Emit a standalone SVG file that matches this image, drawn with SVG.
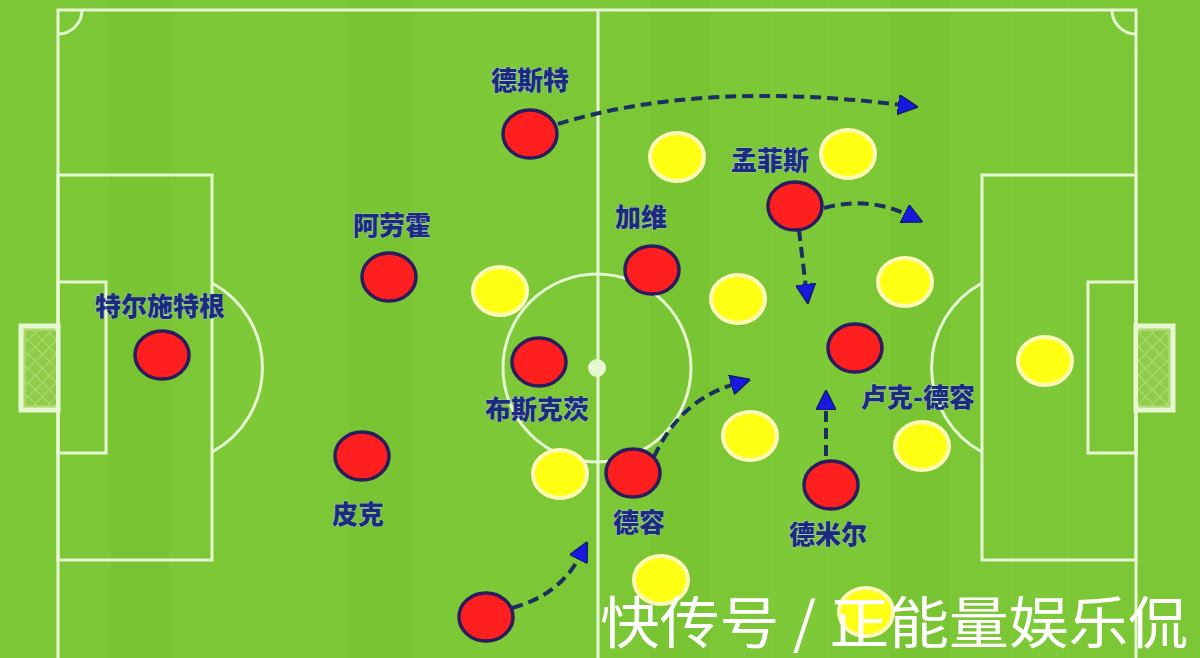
<svg xmlns="http://www.w3.org/2000/svg" width="1200" height="658" viewBox="0 0 1200 658">
<defs>
<style>
.line{fill:none;stroke:#e6f7d2;stroke-width:3}
.red{fill:#ff1f1f;stroke:#2b1c5e;stroke-width:3.5}
.yel{fill:#ffff14;stroke:#fdf8b8;stroke-width:4}
.lbl{font-family:"Noto Sans CJK SC","Noto Sans",sans-serif;font-weight:900;font-size:26px;fill:#1b2c80;text-anchor:middle;stroke:#c8d8f0;stroke-width:0.6;paint-order:stroke}
.arr{fill:none;stroke:#1c2f62;stroke-width:4;stroke-dasharray:11 6}
.net{fill:#a8d86a;stroke:#e6f7d2;stroke-width:5}
.wm{font-family:"Noto Sans CJK SC",sans-serif;font-size:56px;fill:#ffffff}
</style>
<marker id="ah" viewBox="0 0 10 10" refX="2" refY="5" markerWidth="5" markerHeight="5" orient="auto" markerUnits="strokeWidth">
<path d="M0,0 L10,5 L0,10 z" fill="#1818e0" stroke="#10206a" stroke-width="0.8"/>
</marker>
<pattern id="mesh" width="10" height="10" patternUnits="userSpaceOnUse" patternTransform="rotate(45)">
<rect width="10" height="10" fill="#8fcc4a"/>
<path d="M0,0 H10 M0,0 V10" stroke="#b8e07a" stroke-width="1.5"/>
</pattern>
</defs>
<rect width="1200" height="658" fill="#7cc736"/>
<g id="stripes" opacity="0.5">
<rect x="110" y="0" width="60" height="658" fill="#78c232"/>
<rect x="230" y="0" width="60" height="658" fill="#80cb3a"/>
<rect x="350" y="0" width="60" height="658" fill="#78c232"/>
<rect x="470" y="0" width="60" height="658" fill="#80cb3a"/>
<rect x="650" y="0" width="60" height="658" fill="#78c232"/>
<rect x="770" y="0" width="60" height="658" fill="#80cb3a"/>
<rect x="890" y="0" width="60" height="658" fill="#78c232"/>
<rect x="1010" y="0" width="60" height="658" fill="#80cb3a"/>
</g>
<g id="pitch">
<rect class="line" x="58" y="10" width="1078" height="700"/>
<line class="line" x1="598" y1="10" x2="598" y2="658"/>
<circle class="line" cx="597" cy="368" r="94"/>
<circle cx="597" cy="368" r="9" fill="#e6f7d2"/>
<path class="line" d="M58,34 A24,24 0 0 0 82,10"/>
<path class="line" d="M1112,10 A24,24 0 0 0 1136,34"/>
<rect class="line" x="58" y="175" width="154" height="385"/>
<rect class="line" x="58" y="282" width="48" height="171"/>
<path class="line" d="M212,283 A96,96 0 0 1 212,452"/>
<rect class="net" x="21" y="326" width="37" height="84"/>
<rect class="line" x="982" y="175" width="154" height="385"/>
<rect class="line" x="1088" y="282" width="48" height="171"/>
<path class="line" d="M982,283 A96,96 0 0 0 982,452"/>
<rect class="net" x="1136" y="326" width="37" height="84"/>
<rect x="26" y="331" width="30" height="74" fill="url(#mesh)"/>
<rect x="1138" y="331" width="30" height="74" fill="url(#mesh)"/>
</g>
<g id="connectors">
<path class="arr" d="M558,124 Q700,80 902,105" marker-end="url(#ah)"/>
<path class="arr" d="M824,208 Q868,196 908,215" marker-end="url(#ah)"/>
<path class="arr" d="M799,230 L806,288" marker-end="url(#ah)"/>
<path class="arr" d="M826,456 L826,406" marker-end="url(#ah)"/>
<path class="arr" d="M654,457 Q680,400 735,384" marker-end="url(#ah)"/>
<path class="arr" d="M512,608 Q560,595 580,556" marker-end="url(#ah)"/>
</g>
<g id="opponents">
<ellipse class="yel" cx="677" cy="157" rx="27" ry="24"/>
<ellipse class="yel" cx="848" cy="154" rx="27" ry="24"/>
<ellipse class="yel" cx="500" cy="291" rx="27" ry="24"/>
<ellipse class="yel" cx="738" cy="299" rx="27" ry="24"/>
<ellipse class="yel" cx="905" cy="282" rx="27" ry="24"/>
<ellipse class="yel" cx="1045" cy="361" rx="27" ry="24"/>
<ellipse class="yel" cx="750" cy="436" rx="27" ry="24"/>
<ellipse class="yel" cx="922" cy="446" rx="27" ry="24"/>
<ellipse class="yel" cx="560" cy="474" rx="27" ry="24"/>
<ellipse class="yel" cx="661" cy="580" rx="27" ry="24"/>
<ellipse class="yel" cx="866" cy="612" rx="27" ry="24"/>
</g>
<g id="ter-stegen"><ellipse class="red" cx="162" cy="355" rx="27" ry="24"/><text class="lbl" x="160" y="316">特尔施特根</text></g>
<g id="araujo"><ellipse class="red" cx="389" cy="277" rx="27" ry="24"/><text class="lbl" x="392" y="235">阿劳霍</text></g>
<g id="dest"><ellipse class="red" cx="530" cy="134" rx="27" ry="24"/><text class="lbl" x="530" y="90">德斯特</text></g>
<g id="pique"><ellipse class="red" cx="362" cy="456" rx="27" ry="24"/><text class="lbl" x="358" y="524">皮克</text></g>
<g id="busquets"><ellipse class="red" cx="539" cy="362" rx="27" ry="24"/><text class="lbl" x="537" y="419">布斯克茨</text></g>
<g id="gavi"><ellipse class="red" cx="652" cy="270" rx="27" ry="24"/><text class="lbl" x="641" y="227">加维</text></g>
<g id="depay"><ellipse class="red" cx="795" cy="206" rx="27" ry="24"/><text class="lbl" x="770" y="170">孟菲斯</text></g>
<g id="luuk-de-jong"><ellipse class="red" cx="855" cy="348" rx="27" ry="24"/><text class="lbl" x="918" y="407">卢克-德容</text></g>
<g id="de-jong"><ellipse class="red" cx="633" cy="473" rx="27" ry="24"/><text class="lbl" x="639" y="532">德容</text></g>
<g id="demir"><ellipse class="red" cx="831" cy="485" rx="27" ry="24"/><text class="lbl" x="828" y="544">德米尔</text></g>
<g id="player-bottom"><ellipse class="red" cx="486" cy="617" rx="27" ry="24"/></g>
<text class="wm" x="600" y="643" textLength="588" lengthAdjust="spacingAndGlyphs">快传号 / 正能量娱乐侃</text>
</svg>
